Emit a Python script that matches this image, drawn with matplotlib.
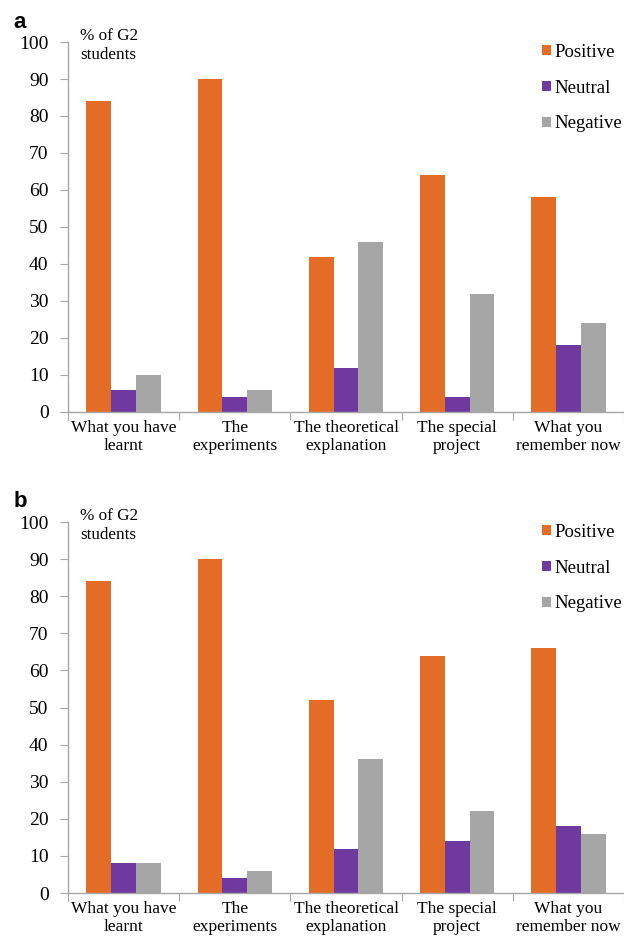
import matplotlib
matplotlib.use("Agg")
import matplotlib.pyplot as plt
import numpy as np

categories = ["What you have\nlearnt", "The\nexperiments", "The theoretical\nexplanation",
              "The special\nproject", "What you\nremember now"]
series = ["Positive", "Neutral", "Negative"]
pos_a = [84, 90, 42, 64, 58]
neu_a = [6, 4, 12, 4, 18]
neg_a = [10, 6, 46, 32, 24]
pos_b = [84, 90, 52, 64, 66]
neu_b = [8, 4, 12, 14, 18]
neg_b = [8, 6, 36, 22, 16]
yticks = list(range(0, 101, 10))

colors = ["#E36C26", "#7039A0", "#A6A6A6"]
axcol = "#A6A6A6"
serif = ["Liberation Serif", "DejaVu Serif"]

fig = plt.figure(figsize=(6.24, 9.44), dpi=100)

def panel(rect, vals, letter, letter_y):
    ax = fig.add_axes(rect)
    x = np.arange(len(categories))
    w = 0.223
    for i, (v, c, s) in enumerate(zip(vals, colors, series)):
        ax.bar(x + (i - 1) * w, v, width=w, color=c, label=s)
    ax.set_xlim(-0.5, 4.45)
    ax.set_ylim(0, 100)
    ax.set_yticks(yticks)
    ax.set_yticklabels([str(t) for t in yticks], fontfamily=serif, fontsize=14)
    ax.set_xticks(np.arange(-0.5, 4.6, 1.0))
    ax.set_xticklabels([])
    ax.set_xticks(x, minor=True)
    ax.set_xticklabels(categories, minor=True, fontfamily=serif, fontsize=12.5, linespacing=1.12)
    ax.tick_params(axis="x", which="minor", length=0, pad=6)
    ax.tick_params(axis="x", which="major", length=6, color=axcol, direction="out")
    ax.tick_params(axis="y", length=6, color=axcol, direction="out", pad=8)
    for sp in ["top", "right"]:
        ax.spines[sp].set_visible(False)
    for sp in ["left", "bottom"]:
        ax.spines[sp].set_color(axcol)
        ax.spines[sp].set_linewidth(1.0)
    ax.text(0.022, 1.006, "% of G2", transform=ax.transAxes, ha="left", va="baseline",
            fontfamily=serif, fontsize=12.3)
    ax.text(0.022, 0.954, "students", transform=ax.transAxes, ha="left", va="baseline",
            fontfamily=serif, fontsize=12.3)
    ax.legend(loc="upper right", bbox_to_anchor=(1.0, 1.0), frameon=False,
              borderaxespad=0, borderpad=0.1,
              handlelength=0.45, handleheight=0.45, handletextpad=0.2,
              labelspacing=1.0, prop={"family": serif, "size": 13.5})
    fig.text(0.021, letter_y, letter, fontfamily="Liberation Sans",
             fontweight="bold", fontsize=16, ha="left", va="baseline")
    return ax

panel([0.109, 0.5636, 0.891, 0.3919], [pos_a, neu_a, neg_a], "a", 1 - 28 / 944)
panel([0.109, 0.0540, 0.891, 0.3930], [pos_b, neu_b, neg_b], "b", 1 - 507 / 944)

fig.savefig("out.png", dpi=100)
